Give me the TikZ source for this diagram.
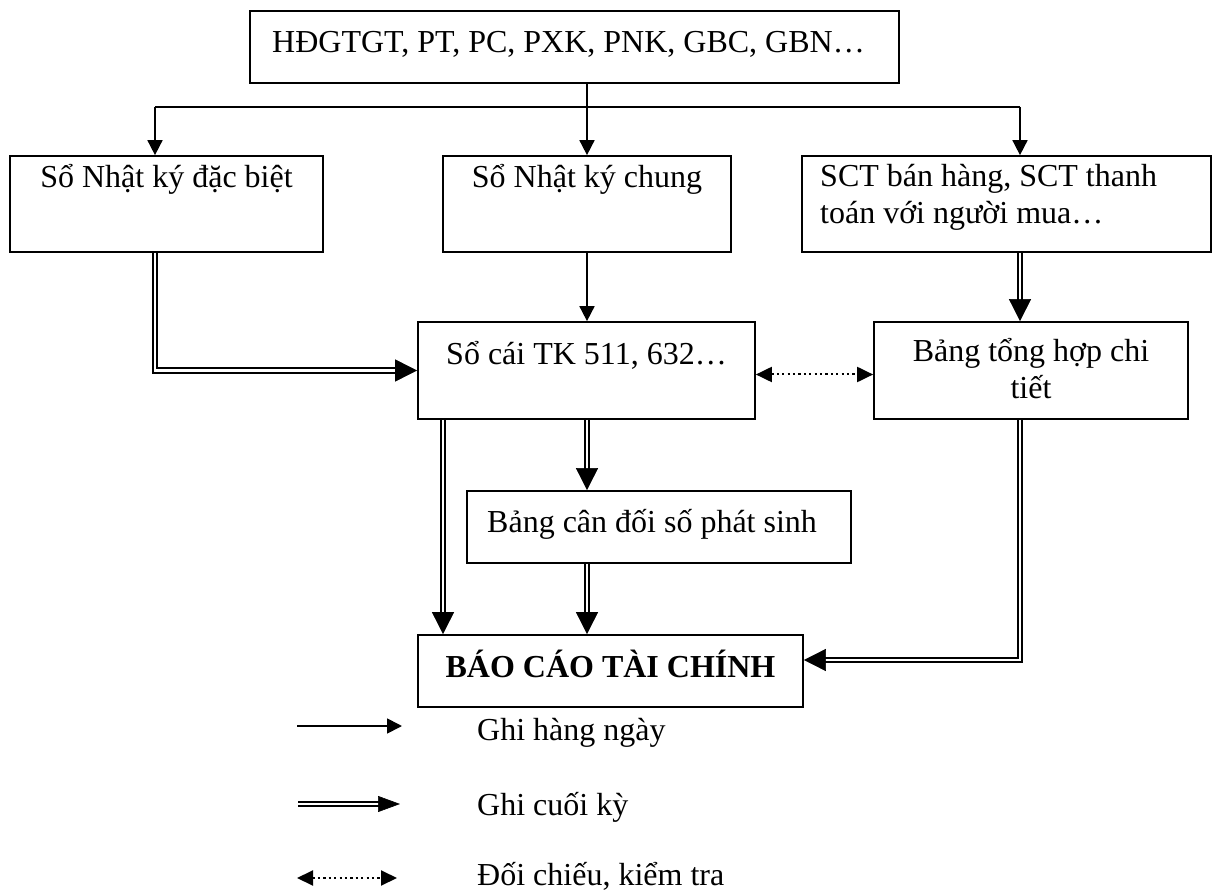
\documentclass[tikz,border=0pt]{standalone}
\usepackage{fontspec}
\setmainfont{Liberation Serif}
\usetikzlibrary{arrows.meta}

\begin{document}
\begin{tikzpicture}[x=1pt, y=-1pt,
  font=\fontsize{32}{37}\selectfont,
  box/.style={draw, line width=1.7pt, inner sep=0pt},
  txt/.style={inner sep=0pt, anchor=base},
  txtl/.style={inner sep=0pt, anchor=base west},
  line/.style={line width=1.7pt},
  arr/.style={line width=1.7pt, -{Triangle[length=15pt,width=15pt]}},
  dbl/.style={line width=1.9pt, double distance=2.6pt, shorten >=14pt},
  dtip/.style={draw=white, line width=0.6pt, shorten <=3pt,
    -{Triangle[length=22pt,width=22pt,color=black,fill=black]}},
  dtipk/.style={draw=white, line width=0.6pt, shorten <=3pt,
    -{Triangle[length=22pt,width=16pt,color=black,fill=black]}},
  dot/.style={line width=2pt, dash pattern=on 2.2pt off 3.2pt,
    {Triangle[length=16pt,width=15pt]}-{Triangle[length=16pt,width=15pt]}}
]
\fill[white] (0,0) rectangle (1216,890);
\useasboundingbox (0,0) rectangle (1216,890);

% boxes
\node[box, minimum width=649pt, minimum height=72pt] (src) at (574.5,47) {};
\node[txtl] (src-t) at (272,53) {HĐGTGT, PT, PC, PXK, PNK, GBC, GBN…};

\node[box, minimum width=313pt, minimum height=96pt] (nkdb) at (166.5,204) {};
\node[txt] (nkdb-t) at (166.5,188) {Sổ Nhật ký đặc biệt};

\node[box, minimum width=288pt, minimum height=96pt] (nkc) at (587,204) {};
\node[txt] (nkc-t) at (587,188) {Sổ Nhật ký chung};

\node[box, minimum width=409pt, minimum height=96pt] (sct) at (1006.5,204) {};
\node[txtl] (sct-t1) at (820,187) {SCT bán hàng, SCT thanh};
\node[txtl] (sct-t2) at (820,224) {toán với người mua…};

\node[box, minimum width=337pt, minimum height=97pt] (soc) at (586.5,370.5) {};
\node[txt] (soc-t) at (586.5,365) {Sổ cái TK 511, 632…};

\node[box, minimum width=314pt, minimum height=97pt] (bth) at (1031,370.5) {};
\node[txt] (bth-t1) at (1031,362) {Bảng tổng hợp chi};
\node[txt] (bth-t2) at (1031,399) {tiết};

\node[box, minimum width=384pt, minimum height=72pt] (cdps) at (659,527) {};
\node[txtl] (cdps-t) at (487,532) {Bảng cân đối số phát sinh};

\node[box, minimum width=385pt, minimum height=72pt] (bctc) at (610.5,671) {};
\node[txt, font=\fontsize{32}{37}\selectfont\bfseries] (bctc-t) at (610.5,677) {BÁO CÁO TÀI CHÍNH};

% column positions of the connectors
\coordinate (bus) at (587,107);
\coordinate (colL) at (155,107);
\coordinate (colR) at (1020,107);
\coordinate (colS) at (443,107);

% daily postings from the source documents
\draw[line] (src.south -| bus) -- (bus);
\draw[line] (colL) -- (colR);
\draw[arr] (colL) -- (nkdb.north -| colL);
\draw[arr] (bus) -- (nkc.north -| bus);
\draw[arr] (colR) -- (sct.north -| colR);
\draw[arr] (nkc.south -| bus) -- (soc.north -| bus);

% end-of-period postings
\draw[dbl]  (nkdb.south -| colL) |- (soc.west);
\draw[dtip] (nkdb.south -| colL) |- (soc.west);
\draw[dbl]  (sct.south -| colR) -- (bth.north -| colR);
\draw[dtip] (sct.south -| colR) -- (bth.north -| colR);
\draw[dbl]  (soc.south -| colS) -- (bctc.north -| colS);
\draw[dtip] (soc.south -| colS) -- (bctc.north -| colS);
\draw[dbl]  (soc.south -| bus) -- (cdps.north -| bus);
\draw[dtip] (soc.south -| bus) -- (cdps.north -| bus);
\draw[dbl]  (cdps.south -| bus) -- (bctc.north -| bus);
\draw[dtip] (cdps.south -| bus) -- (bctc.north -| bus);
\draw[dbl]  (bth.south -| colR) |- ([yshift=11pt]bctc.east);
\draw[dtip] (bth.south -| colR) |- ([yshift=11pt]bctc.east);

% cross-check between ledger and detail summary
\draw[dot] ([yshift=-4pt]soc.east) -- ([yshift=-4pt]bth.west);

% legend
\coordinate (k1a) at (297,726);
\coordinate (k1b) at (402,726);
\draw[arr] (k1a) -- (k1b);
\node[txtl] (k1-t) at (477,740) {Ghi hàng ngày};

\coordinate (k2a) at (298,804);
\coordinate (k2b) at (400,804);
\draw[dbl]   (k2a) -- (k2b);
\draw[dtipk] (k2a) -- (k2b);
\node[txtl] (k2-t) at (477,815) {Ghi cuối kỳ};

\coordinate (k3a) at (297,878);
\coordinate (k3b) at (397,878);
\draw[dot] (k3a) -- (k3b);
\node[txtl] (k3-t) at (477,885) {Đối chiếu, kiểm tra};
\end{tikzpicture}
\end{document}
